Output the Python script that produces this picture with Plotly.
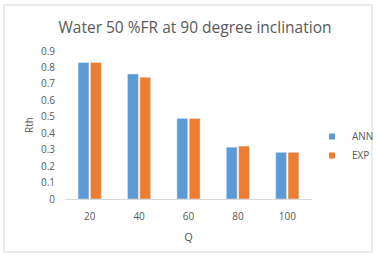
import plotly.graph_objects as go

categories = ["20", "40", "60", "80", "100"]
ann = [0.83, 0.76, 0.49, 0.315, 0.284]
exp_vals = [0.83, 0.74, 0.49, 0.322, 0.284]
yticks = [0, 0.1, 0.2, 0.3, 0.4, 0.5, 0.6, 0.7, 0.8, 0.9]
ytick_text = ["0", "0.1", "0.2", "0.3", "0.4", "0.5", "0.6", "0.7", "0.8", "0.9"]

W, H = 380, 257
L, R, T, B = 65, 68, 51, 58
pw, ph = W - L - R, H - T - B

def px(x):
    return (x - L) / pw

def py(y):
    return (H - B - y) / ph

FONT = "Open Sans"
GRAY = "#595959"
BLUE = "#5B9BD5"
ORANGE = "#ED7D31"

fig = go.Figure()
fig.add_trace(go.Bar(x=categories, y=ann, name="ANN", marker_color=BLUE, showlegend=False))
fig.add_trace(go.Bar(x=categories, y=exp_vals, name="EXP", marker_color=ORANGE, showlegend=False))
# legend entries with small square keys
fig.add_trace(go.Scatter(x=[None], y=[None], mode="markers", name="ANN",
                         marker=dict(symbol="square", size=6, color=BLUE)))
fig.add_trace(go.Scatter(x=[None], y=[None], mode="markers", name="EXP",
                         marker=dict(symbol="square", size=6, color=ORANGE)))

fig.update_layout(
    width=W, height=H,
    margin=dict(l=L, r=R, t=T, b=B, autoexpand=False),
    paper_bgcolor="white", plot_bgcolor="white",
    barmode="group", bargap=0.5, bargroupgap=0.12,
    title=dict(text="Water 50 %FR at 90 degree inclination",
               xref="container", yref="container",
               x=195 / W, xanchor="center", y=1 - 28 / H, yanchor="middle",
               font=dict(family=FONT, size=15.5, color=GRAY)),
    font=dict(family=FONT, color=GRAY, size=10),
    xaxis=dict(title=dict(text="Q", font=dict(size=11, color=GRAY), standoff=11),
               showline=True, linecolor="#D9D9D9", linewidth=1, automargin=False,
               ticks="", tickfont=dict(size=10, color=GRAY), showgrid=False,
               ticklabelstandoff=8),
    yaxis=dict(title=dict(text="Rth", font=dict(size=10, color=GRAY), standoff=5),
               range=[0, 0.9], tickvals=yticks, ticktext=ytick_text, automargin=False,
               showgrid=False, zeroline=False, showline=False,
               tickfont=dict(size=10, color=GRAY), ticks="", ticklabelstandoff=9),
    legend=dict(xref="container", yref="container",
                x=312 / W, y=1 - 122 / H, xanchor="left", yanchor="top",
                font=dict(size=10, color=GRAY), itemwidth=30, tracegroupgap=8,
                bgcolor="rgba(0,0,0,0)"),
    shapes=[dict(type="rect", xref="paper", yref="paper",
                 x0=px(4), x1=px(372), y0=py(252), y1=py(5),
                 line=dict(color="#D9D9D9", width=1), fillcolor="rgba(0,0,0,0)")],
)

fig.write_html("out.html", config={"displayModeBar": False},
               post_script="document.body.style.margin='0';document.body.style.padding='0';")
